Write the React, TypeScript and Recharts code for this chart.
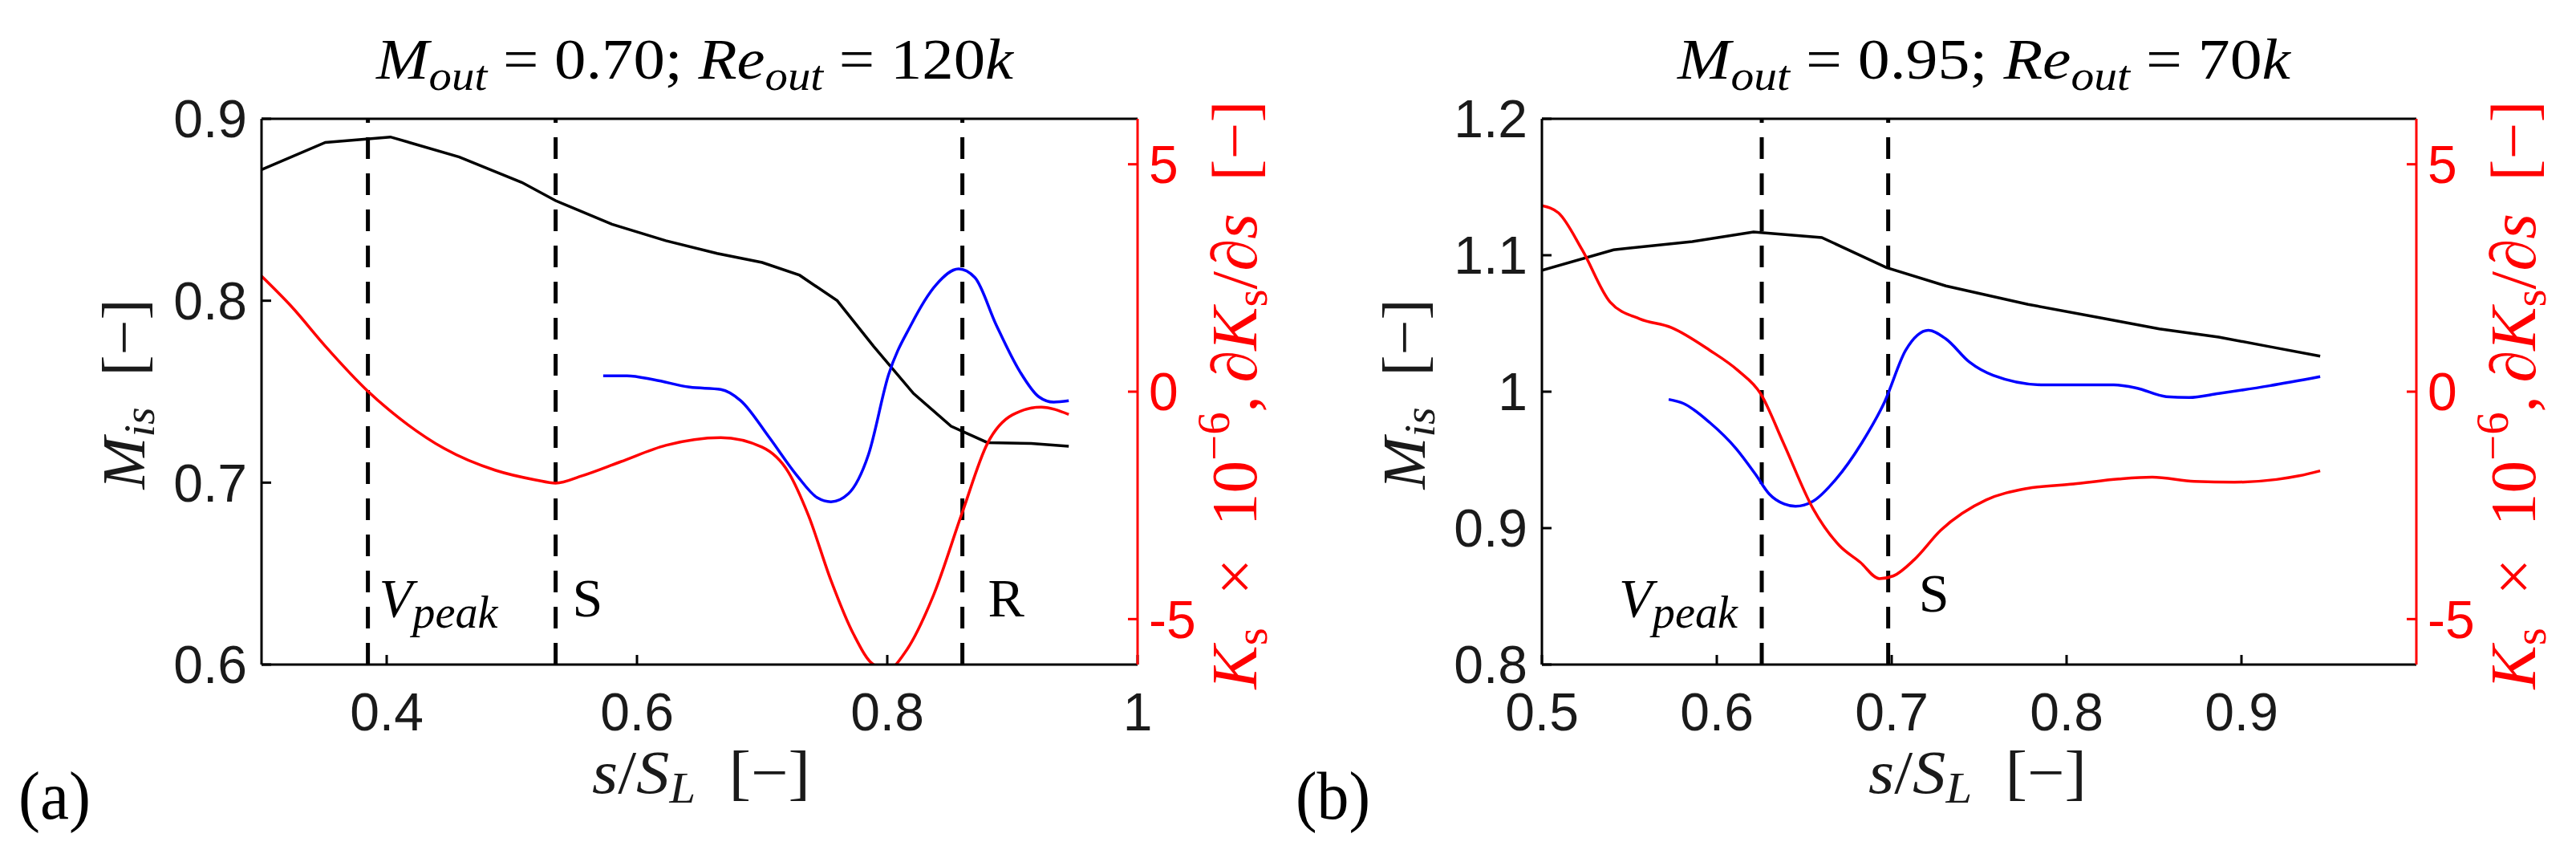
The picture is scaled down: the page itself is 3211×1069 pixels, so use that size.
import { LineChart, Line, XAxis, YAxis, ReferenceLine } from 'recharts'

// (a) M_out = 0.70; Re_out = 120k
const sA_mis = [0.3, 0.351, 0.403, 0.458, 0.508, 0.535, 0.58, 0.623, 0.664, 0.7, 0.73, 0.76, 0.789, 0.821, 0.851, 0.88, 0.915, 0.945]
const misA = [0.872, 0.887, 0.89, 0.879, 0.865, 0.855, 0.842, 0.833, 0.826, 0.821, 0.814, 0.8, 0.775, 0.749, 0.731, 0.722, 0.7215, 0.72]

const sA_blue = [0.573, 0.592, 0.614, 0.642, 0.667, 0.683, 0.705, 0.728, 0.744, 0.755, 0.769, 0.785, 0.801, 0.819, 0.839, 0.857, 0.87, 0.887, 0.906, 0.921, 0.933, 0.945]
const blueA = [0.35, 0.35, 0.26, 0.1, 0.05, -0.2, -0.98, -1.85, -2.33, -2.42, -2.24, -1.38, 0.37, 1.47, 2.35, 2.7, 2.51, 1.47, 0.44, -0.11, -0.23, -0.2]

const sA_red = [0.3, 0.324, 0.351, 0.385, 0.41, 0.446, 0.487, 0.519, 0.535, 0.556, 0.587, 0.623, 0.667, 0.7, 0.721, 0.737, 0.755, 0.773, 0.789, 0.801, 0.814, 0.837, 0.86, 0.88, 0.9, 0.923, 0.945]
const redA = [2.54, 1.87, 1.0, 0.01, -0.58, -1.25, -1.73, -1.94, -2.01, -1.85, -1.54, -1.18, -1.01, -1.22, -1.77, -2.72, -4.15, -5.33, -6.0, -6.1, -5.74, -4.47, -2.65, -1.14, -0.51, -0.34, -0.5]

const marksA = [0.385, 0.535, 0.86]

// (b) M_out = 0.95; Re_out = 70k
const sB_mis = [0.5, 0.541, 0.586, 0.621, 0.66, 0.697, 0.731, 0.778, 0.82, 0.853, 0.887, 0.916, 0.945]
const misB = [1.089, 1.104, 1.11, 1.117, 1.113, 1.091, 1.0775, 1.064, 1.054, 1.046, 1.04, 1.033, 1.026]

const sB_blue = [0.5725, 0.581, 0.596, 0.611, 0.622, 0.63, 0.6385, 0.645, 0.655, 0.668, 0.683, 0.696, 0.708, 0.721, 0.731, 0.7445, 0.758, 0.787, 0.827, 0.84, 0.857, 0.87, 0.887, 0.916, 0.945]
const blueB = [-0.17, -0.26, -0.68, -1.25, -1.81, -2.25, -2.47, -2.52, -2.41, -1.93, -1.12, -0.22, 0.91, 1.35, 1.16, 0.65, 0.36, 0.15, 0.15, 0.08, -0.11, -0.13, -0.04, 0.13, 0.33]

const sB_red = [0.5, 0.5095, 0.523, 0.539, 0.556, 0.574, 0.596, 0.612, 0.625, 0.638, 0.655, 0.67, 0.682, 0.693, 0.701, 0.713, 0.728, 0.754, 0.777, 0.804, 0.83, 0.849, 0.873, 0.896, 0.92, 0.933, 0.945]
const redB = [4.09, 3.93, 3.12, 1.97, 1.6, 1.41, 0.91, 0.47, -0.04, -1.12, -2.57, -3.38, -3.75, -4.11, -4.05, -3.69, -3.05, -2.38, -2.13, -2.03, -1.92, -1.88, -1.97, -1.99, -1.93, -1.85, -1.74]

const marksB = [0.6257, 0.698]

// axes
const xTicksA = [0.4, 0.6, 0.8, 1]
const yTicksA = [0.6, 0.7, 0.8, 0.9]
const xTicksB = [0.5, 0.6, 0.7, 0.8, 0.9]
const yTicksB = [0.8, 0.9, 1, 1.1, 1.2]
const kTicks = [-5, 0, 5]

const zip = (xs: number[], ys: number[]) => xs.map((x, i) => ({ x, y: ys[i] }))

const TICK_FONT = 'Liberation Sans, Arial, sans-serif'
const MATH_FONT = "'Liberation Serif', 'Times New Roman', 'DejaVu Serif', serif"
const RED = '#ff0000'
const BLUE = '#0000ff'
const INK = '#1a1a1a'
const H = 1069

interface MarkSpec {
  x: number
  text: string
  sub?: string
  dx: number
  up: number
  anchor: 'start' | 'end'
}

function MarkLabel(props: any) {
  const { viewBox, spec } = props
  if (!viewBox) return null
  const s: MarkSpec = spec
  const x = viewBox.x + s.dx
  const y = viewBox.y + viewBox.height - s.up
  if (!s.sub) {
    return (
      <text x={x} y={y} textAnchor={s.anchor} fontFamily={MATH_FONT} fontSize={68} fill="#000">
        {s.text}
      </text>
    )
  }
  return (
    <text
      x={x}
      y={y}
      textAnchor={s.anchor}
      fontFamily={MATH_FONT}
      fontSize={68}
      fill="#000"
      textLength={148}
      lengthAdjust="spacingAndGlyphs"
    >
      <tspan fontStyle="italic">{s.text}</tspan>
      <tspan fontStyle="italic" fontSize={56} dy={14}>{s.sub}</tspan>
    </text>
  )
}

interface PanelProps {
  left: number
  width: number
  margin: { top: number; right: number; bottom: number; left: number }
  xDomain: [number, number]
  xTicks: number[]
  yDomain: [number, number]
  yTicks: number[]
  black: { x: number; y: number }[]
  blue: { x: number; y: number }[]
  red: { x: number; y: number }[]
  marks: MarkSpec[]
}

function Panel({ left, width, margin, xDomain, xTicks, yDomain, yTicks, black, blue, red, marks }: PanelProps) {
  const tick = { fontSize: 66, fill: INK, fontFamily: TICK_FONT }
  return (
    <div style={{ position: 'absolute', left, top: 0 }}>
      <LineChart width={width} height={H} margin={margin}>
        <XAxis
          xAxisId="b"
          type="number"
          dataKey="x"
          domain={xDomain}
          ticks={xTicks}
          interval={0}
          allowDataOverflow
          height={100}
          tickSize={-12}
          tickMargin={47}
          stroke="#000"
          strokeWidth={3}
          tick={tick}
        />
        <XAxis
          xAxisId="t"
          orientation="top"
          type="number"
          dataKey="x"
          domain={xDomain}
          ticks={xTicks}
          interval={0}
          allowDataOverflow
          height={1}
          tickSize={-12}
          stroke="#000"
          strokeWidth={3}
          tick={false}
        />
        <YAxis
          yAxisId="l"
          type="number"
          domain={yDomain}
          ticks={yTicks}
          interval={0}
          allowDataOverflow
          width={100}
          tickSize={-12}
          tickMargin={30}
          stroke="#000"
          strokeWidth={3}
          tick={tick}
        />
        <YAxis
          yAxisId="r"
          orientation="right"
          type="number"
          domain={[-6, 6]}
          ticks={kTicks}
          interval={0}
          allowDataOverflow
          width={100}
          tickSize={-12}
          tickMargin={26}
          stroke={RED}
          strokeWidth={3}
          tick={{ ...tick, fill: RED }}
        />
        {marks.map((m) => (
          <ReferenceLine
            key={m.x}
            xAxisId="b"
            yAxisId="l"
            x={m.x}
            stroke="#000"
            strokeWidth={5}
            strokeDasharray="27 18"
            label={<MarkLabel spec={m} />}
          />
        ))}
        <Line xAxisId="b" yAxisId="l" data={black} dataKey="y" type="linear" stroke="#000" strokeWidth={3.5} dot={false} isAnimationActive={false} />
        <Line xAxisId="b" yAxisId="r" data={blue} dataKey="y" type="monotone" stroke={BLUE} strokeWidth={3.5} dot={false} isAnimationActive={false} />
        <Line xAxisId="b" yAxisId="r" data={red} dataKey="y" type="monotone" stroke={RED} strokeWidth={3.5} dot={false} isAnimationActive={false} />
      </LineChart>
    </div>
  )
}

function Title({ cx, m, re, len }: { cx: number; m: string; re: string; len: number }) {
  return (
    <text
      x={cx}
      y={98}
      textAnchor="middle"
      fontFamily={MATH_FONT}
      fontSize={72}
      fill="#000"
      textLength={len}
      lengthAdjust="spacingAndGlyphs"
    >
      <tspan fontStyle="italic">M</tspan>
      <tspan fontStyle="italic" fontSize={52} dy={14}>out</tspan>
      <tspan dy={-14}>{` = ${m}; `}</tspan>
      <tspan fontStyle="italic">Re</tspan>
      <tspan fontStyle="italic" fontSize={52} dy={14}>out</tspan>
      <tspan dy={-14}>{` = ${re}`}</tspan>
      <tspan fontStyle="italic">k</tspan>
    </text>
  )
}

function LeftLabel({ x }: { x: number }) {
  return (
    <text
      transform={`translate(${x},491) rotate(-90)`}
      textAnchor="middle"
      fontFamily={MATH_FONT}
      fontSize={76}
      fill={INK}
      textLength={237}
      lengthAdjust="spacingAndGlyphs"
    >
      <tspan fontStyle="italic">M</tspan>
      <tspan fontStyle="italic" fontSize={54} dy={12}>is</tspan>
      <tspan dy={-12}>{'\u2002[\u2212]'}</tspan>
    </text>
  )
}

function RightLabel({ x }: { x: number }) {
  return (
    <text
      transform={`translate(${x},492) rotate(-90)`}
      textAnchor="middle"
      fontFamily={MATH_FONT}
      fontSize={80}
      fill={RED}
      textLength={733}
      lengthAdjust="spacingAndGlyphs"
    >
      <tspan fontStyle="italic">K</tspan>
      <tspan fontSize={56} dy={13}>s</tspan>
      <tspan dy={-13}>{'\u2002\u00d7\u200210'}</tspan>
      <tspan fontSize={56} dy={-34}>{'\u22126'}</tspan>
      <tspan dy={34}>{',\u2009\u2202'}</tspan>
      <tspan fontStyle="italic">K</tspan>
      <tspan fontSize={56} dy={13}>s</tspan>
      <tspan dy={-13}>{'/\u2202'}</tspan>
      <tspan fontStyle="italic">s</tspan>
      <tspan>{'\u2002[\u2212]'}</tspan>
    </text>
  )
}

function XTitle({ cx }: { cx: number }) {
  return (
    <text
      x={cx}
      y={988}
      textAnchor="middle"
      fontFamily={MATH_FONT}
      fontSize={76}
      fill={INK}
      textLength={272}
      lengthAdjust="spacingAndGlyphs"
    >
      <tspan fontStyle="italic">s</tspan>
      <tspan>/</tspan>
      <tspan fontStyle="italic">S</tspan>
      <tspan fontStyle="italic" fontSize={54} dy={12}>L</tspan>
      <tspan dy={-12}>{'\u2002[\u2212]'}</tspan>
    </text>
  )
}

export default function App() {
  const marksSpecA: MarkSpec[] = [
    { x: marksA[0], text: 'V', sub: 'peak', dx: 14, up: 60, anchor: 'start' },
    { x: marksA[1], text: 'S', dx: 21, up: 60, anchor: 'start' },
    { x: marksA[2], text: 'R', dx: 32, up: 60, anchor: 'start' },
  ]
  const marksSpecB: MarkSpec[] = [
    { x: marksB[0], text: 'V', sub: 'peak', dx: -30, up: 60, anchor: 'end' },
    { x: marksB[1], text: 'S', dx: 38, up: 66, anchor: 'start' },
  ]

  return (
    <div style={{ position: 'absolute', left: 0, top: 0, width: 3211, height: H, background: '#fff', overflow: 'hidden' }}>
      <Panel
        left={0}
        width={1600}
        margin={{ top: 147, right: 82, bottom: 141, left: 226 }}
        xDomain={[0.3, 1]}
        xTicks={xTicksA}
        yDomain={[0.6, 0.9]}
        yTicks={yTicksA}
        black={zip(sA_mis, misA)}
        blue={zip(sA_blue, blueA)}
        red={zip(sA_red, redA)}
        marks={marksSpecA}
      />
      <Panel
        left={1600}
        width={1611}
        margin={{ top: 147, right: 99, bottom: 141, left: 222 }}
        xDomain={[0.5, 1]}
        xTicks={xTicksB}
        yDomain={[0.8, 1.2]}
        yTicks={yTicksB}
        black={zip(sB_mis, misB)}
        blue={zip(sB_blue, blueB)}
        red={zip(sB_red, redB)}
        marks={marksSpecB}
      />
      <svg width={3211} height={H} style={{ position: 'absolute', left: 0, top: 0, pointerEvents: 'none' }}>
        <Title cx={866} m="0.70" re="120" len={794} />
        <Title cx={2473} m="0.95" re="70" len={764} />
        <LeftLabel x={180} />
        <LeftLabel x={1776} />
        <RightLabel x={1566} />
        <RightLabel x={3160} />
        <XTitle cx={874} />
        <XTitle cx={2465} />
        <text x={23} y={1020} fontFamily={MATH_FONT} fontSize={84} fill="#000" textLength={90} lengthAdjust="spacingAndGlyphs">(a)</text>
        <text x={1615} y={1020} fontFamily={MATH_FONT} fontSize={84} fill="#000" textLength={93} lengthAdjust="spacingAndGlyphs">(b)</text>
      </svg>
    </div>
  )
}
